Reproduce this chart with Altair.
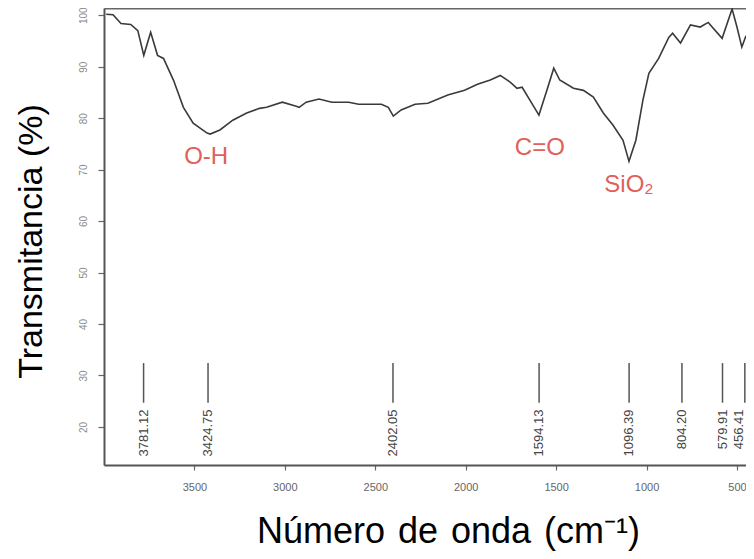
import altair as alt
import pandas as pd

# Spectrum (wavenumber cm-1, transmittance %)
wavenumber = [3988, 3950, 3906, 3852, 3813, 3780, 3742, 3704, 3671, 3616, 3561, 3507,
              3430, 3413, 3359, 3288, 3211, 3140, 3101, 3014, 2937, 2921, 2882, 2811,
              2740, 2647, 2592, 2466, 2428, 2400, 2357, 2280, 2209, 2099, 2006, 1935,
              1864, 1809, 1754, 1716, 1688, 1645, 1595, 1551, 1513, 1480, 1404, 1349,
              1294, 1239, 1185, 1130, 1097, 1059, 1020, 987, 933, 877, 856, 812, 757,
              703, 659, 582, 527, 500, 473, 450]
transmittance = [100.2, 100.1, 98.4, 98.2, 97.0, 92.2, 96.7, 92.2, 91.6, 87.4, 82.1, 79.0,
                 77.1, 76.9, 77.7, 79.6, 81.0, 81.9, 82.1, 83.1, 82.3, 82.1, 83.1, 83.7,
                 83.1, 83.1, 82.7, 82.7, 82.1, 80.4, 81.6, 82.7, 82.9, 84.5, 85.4, 86.6,
                 87.4, 88.3, 87.0, 85.8, 86.0, 83.5, 80.6, 85.4, 89.7, 87.4, 85.8, 85.4,
                 84.1, 81.0, 78.6, 75.7, 71.6, 75.7, 83.5, 88.7, 91.6, 95.7, 96.5, 94.6, 98.1,
                 97.7, 98.6, 95.5, 101.2, 97.7, 93.8, 96.0]

# Peak marker sticks
peaks = [3781.12, 3424.75, 2402.05, 1594.13, 1096.39, 804.20, 579.91, 456.41]
peak_labels = ["3781.12", "3424.75", "2402.05", "1594.13", "1096.39", "804.20", "579.91", "456.41"]
stick_top = 32.4
stick_bottom = 24.7
label_top = 23.4

# Band annotations
band_names = ["O-H", "C=O", "SiO₂"]
band_x = [3435, 1590, 1097]
band_y = [72.4, 74.2, 67.0]

spec = pd.DataFrame({"wn": wavenumber, "T": transmittance})
sticks = pd.DataFrame({"wn": peaks, "lab": peak_labels,
                       "top": [stick_top] * len(peaks),
                       "bot": [stick_bottom] * len(peaks),
                       "ly": [label_top] * len(peaks)})
bands = pd.DataFrame({"name": band_names, "wn": band_x, "T": band_y})

xscale = alt.Scale(domain=[450, 4000], reverse=True, nice=False, zero=False)
yscale = alt.Scale(domain=[12.6, 101.4], nice=False, zero=False)

FONT = "Liberation Sans"

yaxis = alt.Axis(
    title="Transmitancia (%)", values=[20, 30, 40, 50, 60, 70, 80, 90, 100],
    grid=False, labelAngle=270, labelAlign="center", labelBaseline="middle",
    labelPadding=15, labelFontSize=10, labelColor="#8a8a8a", labelFont=FONT,
    tickSize=6, tickColor="#666", tickWidth=1.2,
    domainColor="#555", domainWidth=2,
    titleFont=FONT, titleFontSize=34, titleFontWeight="normal", titleColor="#000",
    titleAngle=270, titleBaseline="middle", titleX=-73, titleY=233,
)
xaxis = alt.Axis(
    title="Número\u200a de\u200a onda\u200a (cm⁻¹)", values=[500, 1000, 1500, 2000, 2500, 3000, 3500],
    format="d", grid=False, labelFontSize=11, labelColor="#666", labelFont=FONT,
    labelPadding=11, tickSize=5, tickColor="#666", tickWidth=1.2,
    domainColor="#555", domainWidth=2,
    titleFont=FONT, titleFontSize=36, titleFontWeight="normal", titleColor="#000",
    titleBaseline="middle", titleX=344, titleY=66,
)
topaxis = alt.Axis(orient="top", title=None, labels=False, ticks=False, grid=False,
                   domainColor="#666", domainWidth=2)

line = alt.Chart(spec).mark_line(color="#3a3a3a", strokeWidth=1.6).encode(
    x=alt.X("wn:Q", scale=xscale, axis=xaxis),
    y=alt.Y("T:Q", scale=yscale, axis=yaxis),
    order=alt.Order("wn:Q", sort="descending"),
)

stick_rules = alt.Chart(sticks).mark_rule(color="#555", strokeWidth=1.5).encode(
    x=alt.X("wn:Q", scale=xscale, axis=topaxis),
    y=alt.Y("top:Q", scale=yscale, axis=yaxis),
    y2="bot:Q",
)

stick_text = alt.Chart(sticks).transform_filter("datum.wn > 500").mark_text(
    angle=270, align="right", baseline="middle", fontSize=13, font=FONT, color="#444"
).encode(
    x=alt.X("wn:Q", scale=xscale, axis=None),
    y=alt.Y("ly:Q", scale=yscale, axis=yaxis),
    text="lab:N",
)

stick_text_edge = alt.Chart(sticks).transform_filter("datum.wn <= 500").mark_text(
    angle=270, align="right", baseline="middle", fontSize=13, font=FONT, color="#444",
    dy=-6,
).encode(
    x=alt.X("wn:Q", scale=xscale, axis=None),
    y=alt.Y("ly:Q", scale=yscale, axis=yaxis),
    text="lab:N",
)

band_text = alt.Chart(bands).mark_text(
    fontSize=24, font=FONT, color="#e0605a", baseline="middle", align="center"
).encode(
    x=alt.X("wn:Q", scale=xscale, axis=None),
    y=alt.Y("T:Q", scale=yscale, axis=yaxis),
    text="name:N",
)

chart = alt.layer(line, stick_rules, stick_text, stick_text_edge, band_text).resolve_axis(
    x="independent"
).properties(
    width=642, height=457,
    autosize=alt.AutoSizeParams(type="none"),
    padding={"left": 96, "top": 0, "right": 0, "bottom": 86},
).configure_view(stroke=None).configure(background="#ffffff")

chart.save("out.html", embed_options={"renderer": "svg", "actions": False})
